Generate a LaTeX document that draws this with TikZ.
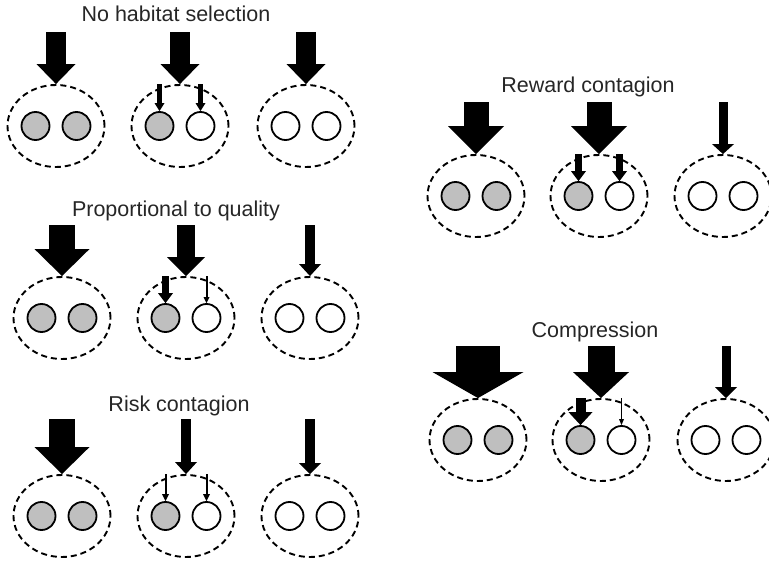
\documentclass[tikz,border=0pt]{standalone}
\usepackage{fontspec}
\setmainfont{Liberation Sans}
\usetikzlibrary{arrows.meta, shapes.geometric, positioning}

\tikzset{
  patch/.style={ellipse, draw, dash pattern=on 6pt off 4pt, line width=1.9pt,
    minimum width=97pt, minimum height=82pt, inner sep=0pt},
  good/.style={circle, draw, line width=1.8pt, fill=gray!50, minimum size=28pt, inner sep=0pt},
  poor/.style={circle, draw, line width=1.8pt, fill=white, minimum size=28pt, inner sep=0pt},
  flow/.style n args={3}{line width=#1, -{Triangle[width=#2, length=#3, line width=0pt]}},
  heading/.style={anchor=base, font=\fontsize{21.5}{26}\selectfont, text=black!85}
}

\begin{document}
\begin{tikzpicture}[x=1pt, y=-1pt]
  \useasboundingbox (0,0) rectangle (769,561);

  % no habitat selection
  \node[heading] (nhT) at (176,22) {No habitat selection};
  \node[patch] (nh1) at (56,126) {};
  \node[patch] (nh2) at (180,126) {};
  \node[patch] (nh3) at (306,126) {};
  \node[good] (nh1a) at ([xshift=-20.5pt]nh1.center) {};
  \node[good] (nh1b) at ([xshift=20.5pt]nh1.center) {};
  \node[good] (nh2a) at ([xshift=-20.5pt]nh2.center) {};
  \node[poor] (nh2b) at ([xshift=20.5pt]nh2.center) {};
  \node[poor] (nh3a) at ([xshift=-20.5pt]nh3.center) {};
  \node[poor] (nh3b) at ([xshift=20.5pt]nh3.center) {};
  \draw[flow={20pt}{39pt}{20pt}] ([yshift=52pt]nh1.north) -- (nh1.north);
  \draw[flow={20pt}{39pt}{20pt}] ([yshift=52pt]nh2.north) -- (nh2.north);
  \draw[flow={20pt}{39pt}{20pt}] ([yshift=52pt]nh3.north) -- (nh3.north);
  \draw[flow={5pt}{10pt}{8pt}] (nh2a |- nh2.north) -- (nh2a.north);
  \draw[flow={5pt}{10pt}{8pt}] (nh2b |- nh2.north) -- (nh2b.north);

  % proportional to quality
  \node[heading] (pqT) at (176,217) {Proportional to quality};
  \node[patch] (pq1) at (62,318) {};
  \node[patch] (pq2) at (186,318) {};
  \node[patch] (pq3) at (310,318) {};
  \node[good] (pq1a) at ([xshift=-20.5pt]pq1.center) {};
  \node[good] (pq1b) at ([xshift=20.5pt]pq1.center) {};
  \node[good] (pq2a) at ([xshift=-20.5pt]pq2.center) {};
  \node[poor] (pq2b) at ([xshift=20.5pt]pq2.center) {};
  \node[poor] (pq3a) at ([xshift=-20.5pt]pq3.center) {};
  \node[poor] (pq3b) at ([xshift=20.5pt]pq3.center) {};
  \draw[flow={26pt}{55pt}{27pt}] ([yshift=51pt]pq1.north) -- (pq1.north);
  \draw[flow={18pt}{38pt}{19pt}] ([yshift=51pt]pq2.north) -- (pq2.north);
  \draw[flow={10pt}{22pt}{12pt}] ([yshift=51pt]pq3.north) -- (pq3.north);
  \draw[flow={7pt}{15pt}{10pt}] (pq2a |- pq2.north) -- (pq2a.north);
  \draw[flow={2pt}{6pt}{6pt}] (pq2b |- pq2.north) -- (pq2b.north);

  % risk contagion
  \node[heading] (rcT) at (179,412) {Risk contagion};
  \node[patch] (rc1) at (62,516) {};
  \node[patch] (rc2) at (186,516) {};
  \node[patch] (rc3) at (310,516) {};
  \node[good] (rc1a) at ([xshift=-20.5pt]rc1.center) {};
  \node[good] (rc1b) at ([xshift=20.5pt]rc1.center) {};
  \node[good] (rc2a) at ([xshift=-20.5pt]rc2.center) {};
  \node[poor] (rc2b) at ([xshift=20.5pt]rc2.center) {};
  \node[poor] (rc3a) at ([xshift=-20.5pt]rc3.center) {};
  \node[poor] (rc3b) at ([xshift=20.5pt]rc3.center) {};
  \draw[flow={26pt}{55pt}{27pt}] ([yshift=55pt]rc1.north) -- (rc1.north);
  \draw[flow={10pt}{22pt}{12pt}] ([yshift=55pt]rc2.north) -- (rc2.north);
  \draw[flow={10pt}{22pt}{11pt}] ([yshift=55pt]rc3.north) -- (rc3.north);
  \draw[flow={2pt}{7pt}{7pt}] (rc2a |- rc2.north) -- (rc2a.north);
  \draw[flow={2pt}{7pt}{7pt}] (rc2b |- rc2.north) -- (rc2b.north);

  % reward contagion
  \node[heading] (rwT) at (588,93) {Reward contagion};
  \node[patch] (rw1) at (476,196) {};
  \node[patch] (rw2) at (599,196) {};
  \node[patch] (rw3) at (723,196) {};
  \node[good] (rw1a) at ([xshift=-20.5pt]rw1.center) {};
  \node[good] (rw1b) at ([xshift=20.5pt]rw1.center) {};
  \node[good] (rw2a) at ([xshift=-20.5pt]rw2.center) {};
  \node[poor] (rw2b) at ([xshift=20.5pt]rw2.center) {};
  \node[poor] (rw3a) at ([xshift=-20.5pt]rw3.center) {};
  \node[poor] (rw3b) at ([xshift=20.5pt]rw3.center) {};
  \draw[flow={25pt}{56pt}{28pt}] ([yshift=52pt]rw1.north) -- (rw1.north);
  \draw[flow={25pt}{56pt}{28pt}] ([yshift=52pt]rw2.north) -- (rw2.north);
  \draw[flow={9pt}{22pt}{10pt}] ([yshift=52pt]rw3.north) -- (rw3.north);
  \draw[flow={7pt}{15pt}{10pt}] (rw2a |- rw2.north) -- (rw2a.north);
  \draw[flow={7pt}{15pt}{10pt}] (rw2b |- rw2.north) -- (rw2b.north);

  % compression
  \node[heading] (cpT) at (595,338) {Compression};
  \node[patch] (cp1) at (478,440) {};
  \node[patch] (cp2) at (601,440) {};
  \node[patch] (cp3) at (726,440) {};
  \node[good] (cp1a) at ([xshift=-20.5pt]cp1.center) {};
  \node[good] (cp1b) at ([xshift=20.5pt]cp1.center) {};
  \node[good] (cp2a) at ([xshift=-20.5pt]cp2.center) {};
  \node[poor] (cp2b) at ([xshift=20.5pt]cp2.center) {};
  \node[poor] (cp3a) at ([xshift=-20.5pt]cp3.center) {};
  \node[poor] (cp3b) at ([xshift=20.5pt]cp3.center) {};
  \draw[flow={44pt}{91pt}{26pt}] ([yshift=52pt]cp1.north) -- (cp1.north);
  \draw[flow={27pt}{56pt}{26pt}] ([yshift=52pt]cp2.north) -- (cp2.north);
  \draw[flow={9pt}{22pt}{11pt}] ([yshift=52pt]cp3.north) -- (cp3.north);
  \draw[flow={10pt}{24pt}{13pt}] (cp2a |- cp2.north) -- (cp2a.north);
  \draw[flow={1.5pt}{5pt}{6pt}] (cp2b |- cp2.north) -- (cp2b.north);
\end{tikzpicture}
\end{document}
